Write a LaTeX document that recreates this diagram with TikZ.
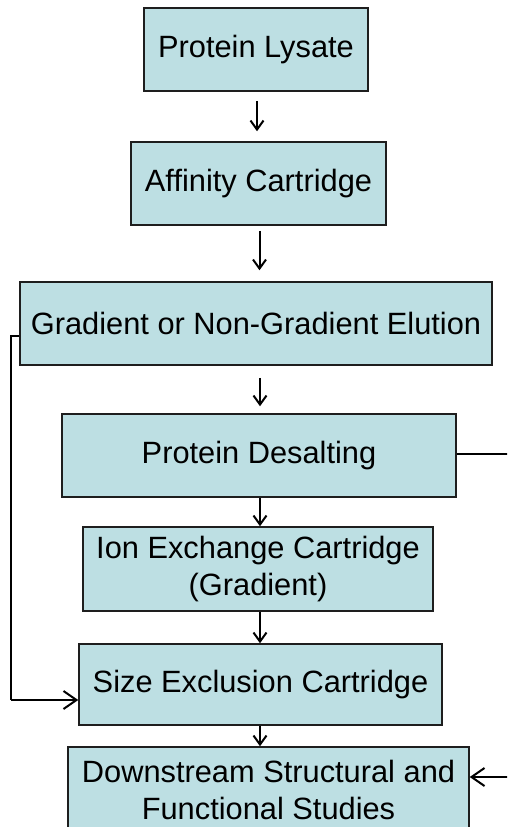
\documentclass[tikz,border=0pt]{standalone}
\usepackage{fontspec}
\setmainfont{Liberation Sans}
\usetikzlibrary{arrows.meta}
\definecolor{boxfill}{RGB}{189,223,227}
\definecolor{boxline}{RGB}{30,30,30}
\begin{document}
\begin{tikzpicture}[x=1pt,y=-1pt,
  stepbox/.style={draw=boxline,line width=1.5pt,fill=boxfill,inner sep=0pt,
    align=center,font=\fontsize{30.8}{36.5}\selectfont},
  arr/.style={line width=2pt,-{Straight Barb[length=9pt,width=13pt,line width=2pt]}},
  harr/.style={line width=2pt,-{Straight Barb[length=13pt,width=18pt,line width=2pt]}},
  conn/.style={line width=1.3pt}]
\useasboundingbox (0,0) rectangle (507,827);
\clip (0,0) rectangle (507,827);
\node[stepbox,minimum width=224pt,minimum height=83pt] (lys) at (256,49.5) {Protein Lysate};
\node[stepbox,minimum width=255pt,minimum height=83pt] (aff) at (258.5,183.5) {Affinity Cartridge};
\node[stepbox,minimum width=472pt,minimum height=83pt] (grad) at (256,323.5) {Gradient or Non-Gradient Elution};
\node[stepbox,minimum width=394pt,minimum height=83pt] (des) at (259,455.5) {Protein Desalting};
\node[stepbox,minimum width=350pt,minimum height=84pt] (ion) at (258,569) {Ion Exchange Cartridge\\(Gradient)};
\node[stepbox,minimum width=363pt,minimum height=81pt] (size) at (260.5,684.5) {Size Exclusion Cartridge};
\node[stepbox,minimum width=401pt,minimum height=86pt] (down) at (268.5,790) {Downstream Structural and\\Functional Studies};
% vertical arrows
\coordinate (a1) at (257,0);
\draw[arr,shorten <=9pt,shorten >=10pt] (a1 |- lys.south) -- (a1 |- aff.north);
\coordinate (a2) at (259.5,0);
\draw[arr,shorten <=5pt,shorten >=11pt] (a2 |- aff.south) -- (a2 |- grad.north);
\coordinate (a3) at (260,0);
\draw[arr,shorten <=12pt,shorten >=7pt] (a3 |- grad.south) -- (a3 |- des.north);
\draw[arr] (a3 |- des.south) -- (a3 |- ion.north);
\draw[arr] (a3 |- ion.south) -- (a3 |- size.north);
\draw[arr] (a3 |- size.south) -- (a3 |- down.north);
% left bypass
\coordinate (l1) at (11,336);
\coordinate (l2) at (11,700);
\draw[conn] (l1 -| grad.west) -- (l1) -- (l2);
\draw[harr] (l2) -- (l2 -| size.west);
% right connectors
\coordinate (r1) at (508,454);
\draw[conn] (r1 -| des.east) -- (r1);
\coordinate (r2) at (508,777);
\draw[harr] (r2) -- (r2 -| down.east);
\end{tikzpicture}
\end{document}
